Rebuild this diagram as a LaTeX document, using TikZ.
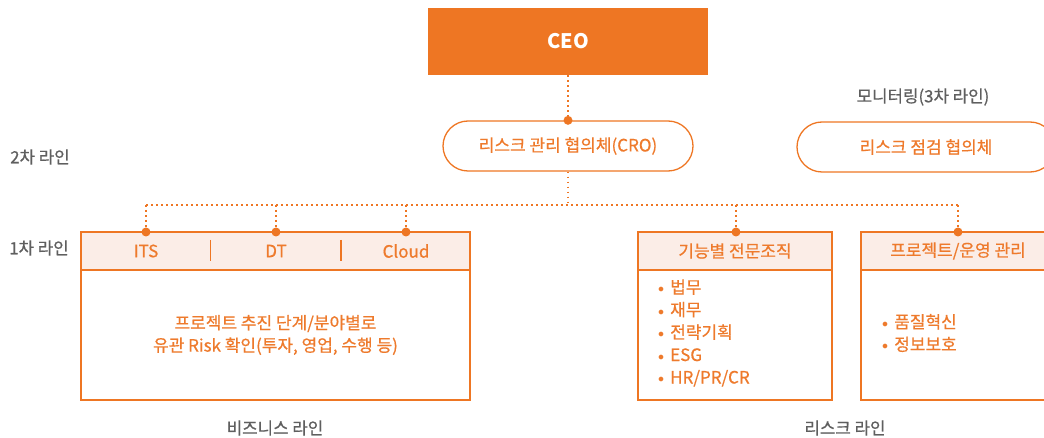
\documentclass[tikz,border=0pt]{standalone}
\usepackage{fontspec}
\setmainfont{Noto Sans CJK KR}
\newfontfamily\med[FakeBold=0.6]{Noto Sans CJK KR}
\definecolor{org}{HTML}{EE7623}
\definecolor{orgtxt}{HTML}{EE7A2C}
\definecolor{hdr}{HTML}{FBEDE7}
\definecolor{gtxt}{HTML}{5F5F5F}
\newcommand{\bul}{\raisebox{0.8pt}{$\scriptstyle\bullet$}\hspace{6pt}}
\tikzset{
  ceobox/.style={fill=org, text=white, minimum width=280, minimum height=67, inner sep=0, font=\fontsize{20}{24}\selectfont\bfseries},
  pill/.style={draw=org, line width=1.3pt, rounded corners=25pt, minimum height=50, inner sep=0, text=orgtxt, font=\med\fontsize{17}{20}\selectfont},
  frame/.style={draw=org, line width=1.5pt, fill=white, inner sep=0},
  hdrbox/.style={draw=org, line width=1.5pt, fill=hdr, inner sep=0, minimum height=38, text=orgtxt, font=\med\fontsize{17}{20}\selectfont},
  otxt/.style={text=orgtxt, font=\med\fontsize{17}{22.5}\selectfont, inner sep=0},
  gray/.style={text=gtxt, font=\med\fontsize{16.8}{20}\selectfont, inner sep=0},
  conn/.style={draw=org, line width=1.8pt, dash pattern=on 1.6pt off 3.4pt},
  sep/.style={draw=org, line width=1.3pt},
  jdot/.style={circle, fill=org, inner sep=0, minimum size=9}
}
\begin{document}
\begin{tikzpicture}[x=1pt,y=-1pt]
\useasboundingbox (0,0) rectangle (1044,438);
% top
\node[ceobox] (ceo) at (568,41.5) {CEO};
\node[pill, minimum width=250] (cro) at (568,146) {리스크 관리 협의체(CRO)};
\node[pill, minimum width=258] (chk) at (926,147) {리스크 점검 협의체};
\node[gray] (mon) at (923,97) {모니터링(3차 라인)};
\node[gray] (l2) at (40,157) {2차 라인};
\node[gray] (l1) at (39,248) {1차 라인};
\node[gray] (bl) at (275,428) {비즈니스 라인};
\node[gray] (rl) at (845,428) {리스크 라인};
% business box
\node[frame, minimum width=389, minimum height=168] (biz) at (275.5,316) {};
\node[hdrbox, minimum width=389] (bizh) at (275.5,251) {};
\node[otxt] (its) at (146,251) {ITS};
\node[otxt] (dt) at (276,251) {DT};
\node[otxt] (cld) at (406,251) {Cloud};
\draw[sep] (210.5,240) -- (210.5,261);
\draw[sep] (341,240) -- (341,261);
\node[otxt, align=center] (biztxt) at (275.5,335) {프로젝트 추진 단계/분야별로\\유관 Risk 확인(투자, 영업, 수행 등)};
% function box
\node[frame, minimum width=194, minimum height=168] (fn) at (735,316) {};
\node[hdrbox, minimum width=194] (fnh) at (735,251) {기능별 전문조직};
\node[otxt, align=left, anchor=west] (fntxt) at (658,333) {\bul 법무\\\bul 재무\\\bul 전략기획\\\bul ESG\\\bul HR/PR/CR};
% project box
\node[frame, minimum width=194, minimum height=168] (pj) at (958,316) {};
\node[hdrbox, minimum width=194] (pjh) at (958,251) {프로젝트/운영 관리};
\node[otxt, align=left, anchor=west] (pjtxt) at (882,333) {\bul 품질혁신\\\bul 정보보호};
% connectors
\coordinate (bus) at (568,205);
\coordinate (busL) at (146,205);
\coordinate (busR) at (958,205);
\node[jdot] (dcro) at (cro.north) {};
\node[jdot] (d1) at (146,232) {};
\node[jdot] (d2) at (276,232) {};
\node[jdot] (d3) at (406,232) {};
\node[jdot] (d4) at (736,232) {};
\node[jdot] (d5) at (958,232) {};
\draw[conn] (ceo.south) -- (dcro.center);
\draw[conn] (cro.south) -- (bus);
\draw[conn] (busL) -- (busR);
\draw[conn] (busL) -- (d1.center);
\draw[conn] (276,205) -- (d2.center);
\draw[conn] (406,205) -- (d3.center);
\draw[conn] (736,205) -- (d4.center);
\draw[conn] (busR) -- (d5.center);
\end{tikzpicture}
\end{document}
